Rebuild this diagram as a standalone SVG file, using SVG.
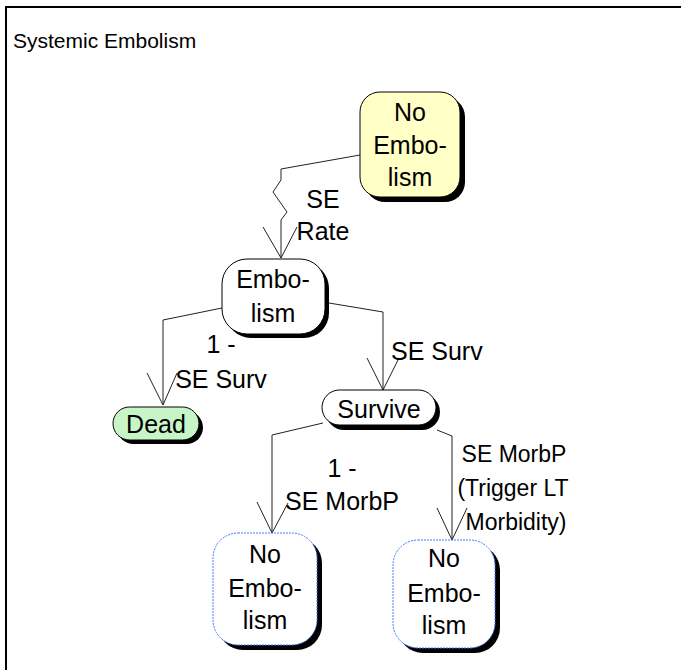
<svg xmlns="http://www.w3.org/2000/svg" width="681" height="670" viewBox="0 0 681 670">
<style>
.t{font-family:"Liberation Sans",Arial,sans-serif;font-size:25px;fill:#000;text-anchor:middle}
.s{font-size:23px}
.title{font-family:"Liberation Sans",Arial,sans-serif;font-size:21px;fill:#000}
.lbl{font-family:"Liberation Sans",Arial,sans-serif;font-size:25px;fill:#000}
.sh{fill:#000}
.box{stroke:#000;stroke-width:1}
.dash{fill:#fff;stroke:#4a78ff;stroke-width:1;stroke-dasharray:2 1}
.c{fill:none;stroke:#222;stroke-width:1}
</style>
<rect x="0" y="0" width="681" height="670" fill="#fff"/>
<rect x="6" y="7" width="700" height="700" fill="none" stroke="#000" stroke-width="2"/>
<text class="title" x="13" y="48">Systemic Embolism</text>
<g id="connectors">
<path class="c" d="M360,155 L281,169 L281,180 L273,192 L287,212 L281,220 L281,258 M263,227 L281,258 L297,227"/>
<path class="c" d="M222,308 L163,320 L163,405 M147,373 L163,405 L177,373"/>
<path class="c" d="M329,303 L383,312 L383,390 M367,358 L383,390 L398,360"/>
<path class="c" d="M323,423 L272,435 L272,533 M257,502 L272,533 L288,503"/>
<path class="c" d="M437,430 L452,436 L452,540 M437,508 L452,540 L467,508"/>
</g>
<g id="lbl-rate"><text class="t" x="323" y="208">SE</text><text class="t" x="323" y="240">Rate</text></g>
<g id="lbl-dead"><text class="t" x="221" y="353">1 -</text><text class="t" x="221" y="388">SE Surv</text></g>
<g id="lbl-surv"><text class="lbl" x="391" y="360">SE Surv</text></g>
<g id="lbl-morb0"><text class="t" x="342" y="477">1 -</text><text class="t" x="342" y="510">SE MorbP</text></g>
<g id="lbl-morb1"><text class="t s" x="514" y="462">SE MorbP</text><text class="t s" x="513" y="496">(Trigger LT</text><text class="t s" x="516" y="530">Morbidity)</text></g>
<g id="n-start">
<rect class="sh" x="365" y="97" width="100" height="105" rx="20"/>
<rect class="box" x="360" y="92" width="100" height="105" rx="20" fill="#ffffc6"/>
<text class="t" x="410" y="121">No</text><text class="t" x="410" y="154">Embo-</text><text class="t" x="410" y="186">lism</text>
</g>
<g id="n-embolism">
<rect class="sh" x="226" y="263" width="103" height="75" rx="25"/>
<rect class="box" x="222" y="259" width="103" height="75" rx="25" fill="#fff"/>
<text class="t" x="273" y="288">Embo-</text><text class="t" x="273" y="322">lism</text>
</g>
<g id="n-dead">
<rect class="sh" x="117" y="411" width="86" height="33" rx="16.5"/>
<rect class="box" x="113" y="407" width="86" height="33" rx="16.5" fill="#c8f5c8"/>
<text class="t" x="156" y="433">Dead</text>
</g>
<g id="n-survive">
<rect class="sh" x="326" y="394" width="114" height="36" rx="18"/>
<rect class="box" x="322" y="390" width="114" height="35" rx="17.5" fill="#fff"/>
<text class="t" x="379" y="418">Survive</text>
</g>
<g id="n-noemb1">
<rect class="sh" x="218" y="538" width="104" height="112" rx="25"/>
<rect class="dash" x="213" y="533" width="104" height="112" rx="25"/>
<text class="t" x="265" y="563">No</text><text class="t" x="265" y="597">Embo-</text><text class="t" x="265" y="629">lism</text>
</g>
<g id="n-noemb2">
<rect class="sh" x="398" y="545" width="102" height="108" rx="25"/>
<rect class="dash" x="393" y="540" width="102" height="108" rx="25"/>
<text class="t" x="444" y="567">No</text><text class="t" x="444" y="602">Embo-</text><text class="t" x="444" y="634">lism</text>
</g>
</svg>
